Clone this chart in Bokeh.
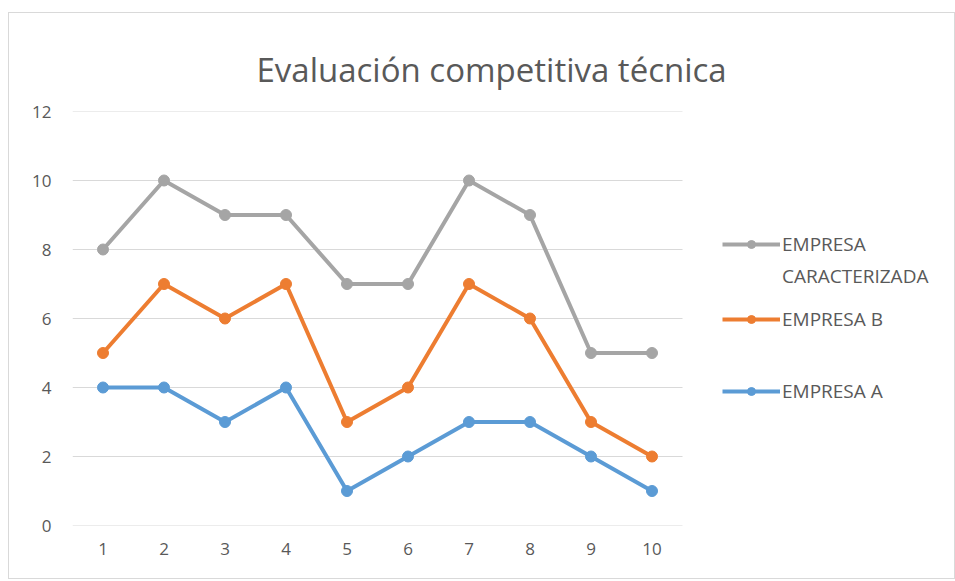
from bokeh.plotting import figure
from bokeh.models import Legend, LegendItem, FixedTicker, Range1d
from bokeh.embed import file_html
from bokeh.resources import INLINE

categories = [1, 2, 3, 4, 5, 6, 7, 8, 9, 10]
empresa_caracterizada = [8, 10, 9, 9, 7, 7, 10, 9, 5, 5]
empresa_b = [5, 7, 6, 7, 3, 4, 7, 6, 3, 2]
empresa_a = [4, 4, 3, 4, 1, 2, 3, 3, 2, 1]
y_ticks = [0, 2, 4, 6, 8, 10, 12]

title_text = "Evaluación competitiva técnica"
FONT = "Open Sans"
TXT = "#595959"
GRID = "#d9d9d9"

x0, x1 = categories[0] - 0.5, categories[-1] + 0.5
PX_PER_CAT = 61
frame_w = 882

p = figure(frame_width=frame_w, frame_height=414, output_backend="svg", toolbar_location=None,
           x_range=Range1d(x0, x0 + frame_w / PX_PER_CAT), y_range=Range1d(0, 12),
           min_border_left=63, min_border_right=0, min_border_top=98, min_border_bottom=53)
p.styles = {"border": "1px solid #d9d9d9", "margin-left": "8px", "margin-top": "12px"}

p.title.text = title_text
p.title.text_font = FONT
p.title.text_font_size = "33px"
p.title.text_font_style = "normal"
p.title.text_color = TXT
p.title.vertical_align = "top"
p.title.align = "left"
p.title.offset = 184
p.title.standoff = 36

p.outline_line_color = None
p.xgrid.grid_line_color = None
p.ygrid.grid_line_color = None
# horizontal gridlines only across the category area
p.segment(x0=[x0] * len(y_ticks), x1=[x1] * len(y_ticks), y0=y_ticks, y1=y_ticks,
          line_color=GRID, line_width=1)

p.xaxis.ticker = FixedTicker(ticks=categories)
p.yaxis.ticker = FixedTicker(ticks=y_ticks)
for ax in (p.xaxis, p.yaxis):
    ax.major_tick_line_color = None
    ax.minor_tick_line_color = None
    ax.axis_line_color = None
    ax.major_label_text_font = FONT
    ax.major_label_text_font_size = "17px"
    ax.major_label_text_color = TXT
p.xaxis.major_label_standoff = 11
p.yaxis.major_label_standoff = 15

series = [
    ("EMPRESA", empresa_caracterizada, "#A5A5A5"),
    ("EMPRESA B", empresa_b, "#ED7D31"),
    ("EMPRESA A", empresa_a, "#5B9BD5"),
]
rends = []
for name, vals, col in series:
    l = p.line(categories, vals, line_color=col, line_width=4)
    c = p.scatter(categories, vals, size=11, fill_color=col, line_color=col)
    rends.append([l, c])

# invisible renderer for second line of the first legend label
dummy = p.line([], [], line_alpha=0)

def make_legend(items, loc, spacing=0):
    return Legend(items=items, location=loc, orientation="vertical",
                  label_text_font=FONT, label_text_font_size="19px", label_text_color=TXT,
                  glyph_width=58, glyph_height=20, label_height=20, spacing=spacing,
                  padding=0, margin=0, label_standoff=2,
                  border_line_color=None, background_fill_alpha=0)

leg1 = make_legend([LegendItem(label=series[0][0], renderers=rends[0]),
                    LegendItem(label="CARACTERIZADA", renderers=[dummy])], (650, 236), spacing=6)
leg2 = make_legend([LegendItem(label=series[1][0], renderers=rends[1])], (650, 193))
leg3 = make_legend([LegendItem(label=series[2][0], renderers=rends[2])], (650, 121))
for lg in (leg1, leg2, leg3):
    p.add_layout(lg)

open("out.html", "w").write(file_html(p, INLINE))
